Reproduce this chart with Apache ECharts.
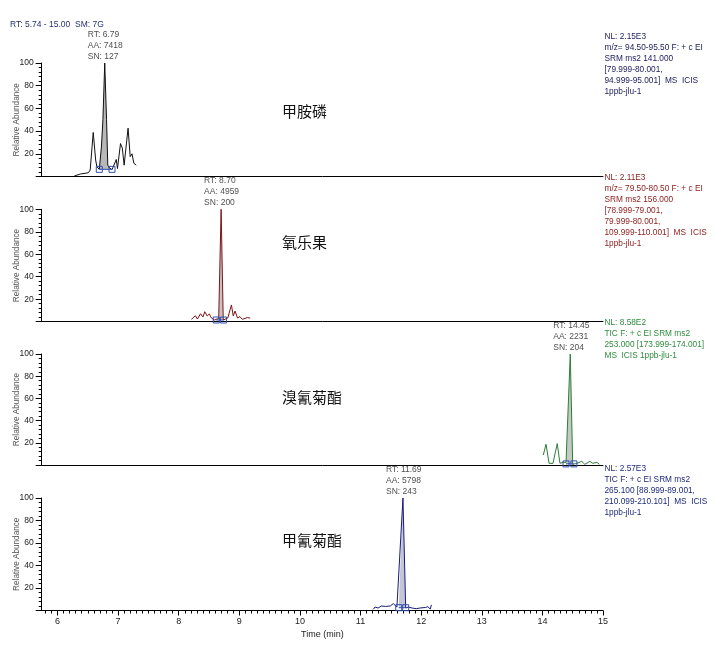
<!DOCTYPE html>
<html><head><meta charset="utf-8">
<script src="https://cdn.jsdelivr.net/npm/echarts@6/dist/echarts.min.js"></script>
<style>html,body{margin:0;padding:0;background:#fff}#c{width:716px;height:646px}</style>
</head><body><div id="c"></div>
<script>
// ---- data ----
const xMin = 5.74, xMax = 15.00;
const xTickLabels = [6, 7, 8, 9, 10, 11, 12, 13, 14, 15];

// Panel 1: 甲胺磷
const t1 = [6.28, 6.38, 6.51, 6.54, 6.59, 6.63, 6.65, 6.69, 6.725, 6.75, 6.78, 6.81, 6.83, 6.86, 6.90, 6.94, 6.97, 6.99, 7.04, 7.07, 7.10, 7.165, 7.20, 7.23, 7.26, 7.30];
const v1 = [0.5, 2.2, 3.3, 5.7, 38.8, 14.5, 8.7, 6.3, 26, 50, 100, 50, 10, 7.5, 6, 11, 15, 7, 29, 25, 10, 42.6, 17.5, 20, 11.7, 10];
// Panel 2: 氧乐果
const t2 = [8.21, 8.275, 8.31, 8.36, 8.40, 8.43, 8.47, 8.505, 8.54, 8.59, 8.62, 8.66, 8.70, 8.735, 8.76, 8.81, 8.87, 8.90, 8.93, 8.97, 9.01, 9.05, 9.13, 9.18];
const v2 = [2.1, 5.3, 2.4, 7.1, 4.2, 8.9, 5.1, 6.9, 3.3, 1.5, 1.5, 3, 100, 1.5, 2.7, 3.3, 14.9, 5.1, 9.5, 3.3, 4.5, 2.1, 3.6, 3.3];
// Panel 3: 溴氰菊酯
const t3 = [14.015, 14.06, 14.11, 14.175, 14.245, 14.29, 14.34, 14.39, 14.42, 14.46, 14.50, 14.57, 14.65, 14.70, 14.785, 14.83, 14.90, 14.94];
const v3 = [9, 18.7, 1.5, 1.5, 19.3, 1.5, 2.4, 2.4, 2.4, 100, 0.6, 1.5, 3.3, 0.6, 3.3, 1.5, 2.4, 0.6];
// Panel 4: 甲氰菊酯
const t4 = [11.21, 11.24, 11.29, 11.34, 11.41, 11.49, 11.54, 11.57, 11.60, 11.63, 11.70, 11.745, 11.79, 11.85, 11.92, 11.98, 12.07, 12.11, 12.15, 12.17];
const v4 = [1.1, 3.1, 2.2, 4, 3.6, 4, 6.1, 7, 3.1, 2.5, 100, 2.2, 3.1, 2.2, 1.6, 2.2, 2.7, 3.4, 1.3, 5];

// peak annotations
const peakRT = [6.78, 8.70, 14.46, 11.70];
const peakText = ['RT: 6.79\nAA: 7418\nSN: 127', 'RT: 8.70\nAA: 4959\nSN: 200', 'RT: 14.45\nAA: 2231\nSN: 204', 'RT: 11.69\nAA: 5798\nSN: 243'];
// integration bounds [start, end, baseline level]
const integ = [[6.69, 6.90, 6.3], [8.62, 8.74, 1.5], [14.39, 14.52, 1.0], [11.63, 11.745, 2.5]];

const compoundNames = ['甲胺磷', '氧乐果', '溴氰菊酯', '甲氰菊酯'];
const infoText = [
  'NL: 2.15E3\nm/z= 94.50-95.50 F: + c EI\nSRM ms2 141.000\n[79.999-80.001,\n94.999-95.001]  MS  ICIS\n1ppb-jlu-1',
  'NL: 2.11E3\nm/z= 79.50-80.50 F: + c EI\nSRM ms2 156.000\n[78.999-79.001,\n79.999-80.001,\n109.999-110.001]  MS  ICIS\n1ppb-jlu-1',
  'NL: 8.58E2\nTIC F: + c EI SRM ms2\n253.000 [173.999-174.001]\nMS  ICIS 1ppb-jlu-1',
  'NL: 2.57E3\nTIC F: + c EI SRM ms2\n265.100 [88.999-89.001,\n210.099-210.101]  MS  ICIS\n1ppb-jlu-1'
];
const headerText = 'RT: 5.74 - 15.00  SM: 7G';

// ---- styles / layout ----
const FONT = '"Liberation Sans", Arial, sans-serif';
const traces = [[t1, v1], [t2, v2], [t3, v3], [t4, v4]];
const lineColors = ['#111111', '#7b1515', '#2e7d3a', '#1a1a7a'];
const textColors = ['#1c1c5c', '#8b1c1c', '#2e8b3e', '#1f2a7a'];
const fillColors = ['#b8b8b8', '#c9c2c2', '#c2cac2', '#c2c6d6'];
const gridTops = [63, 209.3, 354, 498];
const gridHeights = [113.5, 112.4, 111, 112.5];
const infoY = [37, 178, 323, 469];
const nameY = [111, 242, 397, 540];
const markBlue = '#3050b0';

const grids = [], xAxes = [], yAxes = [], series = [];
for (let i = 0; i < 4; i++) {
  grids.push({left: 41.7, right: 113, top: gridTops[i], height: gridHeights[i], containLabel: false, outerBoundsMode: 'none'});
  const bottom = i === 3;
  xAxes.push({
    type: 'value', gridIndex: i, min: xMin, max: xMax,
    axisLine: {show: true, lineStyle: {color: '#000', width: 1}},
    axisTick: bottom ? {show: true, customValues: xTickLabels, length: 5, lineStyle: {color: '#000'}} : {show: false},
    axisLabel: bottom ? {show: true, customValues: xTickLabels, fontSize: 9, fontFamily: FONT, color: '#222', margin: 7} : {show: false},
    splitLine: {show: false},
    name: bottom ? 'Time (min)' : '', nameLocation: 'middle', nameGap: 20, nameMoveOverlap: false,
    nameTextStyle: {fontSize: 9, fontFamily: FONT, color: '#222'}
  });
  yAxes.push({
    type: 'value', gridIndex: i, min: 0, max: 100, interval: 20,
    axisLine: {show: true, lineStyle: {color: '#000', width: 1}},
    axisTick: {show: true, length: 6, lineStyle: {color: '#000'}},
    minorTick: {show: true, splitNumber: 5, length: 3, lineStyle: {color: '#000'}},
    axisLabel: {fontSize: 8.5, fontFamily: FONT, color: '#222', margin: 8, formatter: v => v === 0 ? '' : String(v)},
    splitLine: {show: false},
    name: 'Relative Abundance', nameLocation: 'middle', nameGap: 21, nameMoveOverlap: false,
    nameTextStyle: {fontSize: 8.2, fontFamily: FONT, color: '#555'}
  });

  const [ts, vs] = traces[i];
  const data = ts.map((t, k) => [t, vs[k]]);
  const [b0, b1, base] = integ[i];
  const fillData = [[b0, base]].concat(data.filter(d => d[0] > b0 && d[0] < b1)).concat([[b1, base]]);
  series.push({
    type: 'line', xAxisIndex: i, yAxisIndex: i, data: fillData, showSymbol: false, silent: true, z: 1,
    lineStyle: {width: 0}, areaStyle: {color: fillColors[i], opacity: 1, origin: base}
  });
  series.push({
    type: 'line', xAxisIndex: i, yAxisIndex: i, data: data, showSymbol: false, silent: true, z: 2,
    lineStyle: {color: lineColors[i], width: 1}
  });
  series.push({
    type: 'line', xAxisIndex: i, yAxisIndex: i, data: [[b0, base], [b1, base]], symbol: 'rect', symbolSize: 6,
    showSymbol: true, silent: true, z: 3,
    itemStyle: {color: 'rgba(255,255,255,0)', borderColor: markBlue, borderWidth: 1},
    lineStyle: {color: markBlue, width: 1}
  });
  series.push({
    type: 'scatter', xAxisIndex: i, yAxisIndex: i, data: [[peakRT[i], 100]], symbolSize: 0, silent: true, z: 4,
    label: {show: true, position: 'top', distance: 1, align: 'left', offset: [-17, 0],
      formatter: peakText[i], fontSize: 8.5, lineHeight: 11, fontFamily: FONT, color: '#222'}
  });
}

// minor ticks on bottom time axis
const minorTicks = [];
for (let k = 58; k < 150; k++) { if (k % 10 !== 0) minorTicks.push(k / 10); }
xAxes.push({
  type: 'value', gridIndex: 3, min: xMin, max: xMax, position: 'bottom',
  axisLine: {show: false},
  axisTick: {show: true, customValues: minorTicks, length: 3, lineStyle: {color: '#000'}},
  axisLabel: {show: false}, splitLine: {show: false}
});

const graphic = [{
  type: 'text', left: 10, top: 20.5,
  style: {text: headerText, font: '8.5px ' + FONT, fill: '#263070'}
}];
for (let i = 0; i < 4; i++) {
  graphic.push({
    type: 'text', x: 604.5, y: infoY[i] - 5.5,
    style: {text: infoText[i], font: '8.3px ' + FONT, fill: textColors[i], lineHeight: 11, verticalAlign: 'top'}
  });
  graphic.push({
    type: 'text', x: 282, y: nameY[i],
    style: {text: compoundNames[i], font: '15px "Noto Sans CJK SC", sans-serif', fill: '#111', verticalAlign: 'middle'}
  });
}

const chart = echarts.init(document.getElementById('c'), null, {renderer: 'canvas'});
chart.setOption({
  animation: false, backgroundColor: '#fff',
  grid: grids, xAxis: xAxes, yAxis: yAxes, series: series, graphic: graphic
});
</script></body></html>
